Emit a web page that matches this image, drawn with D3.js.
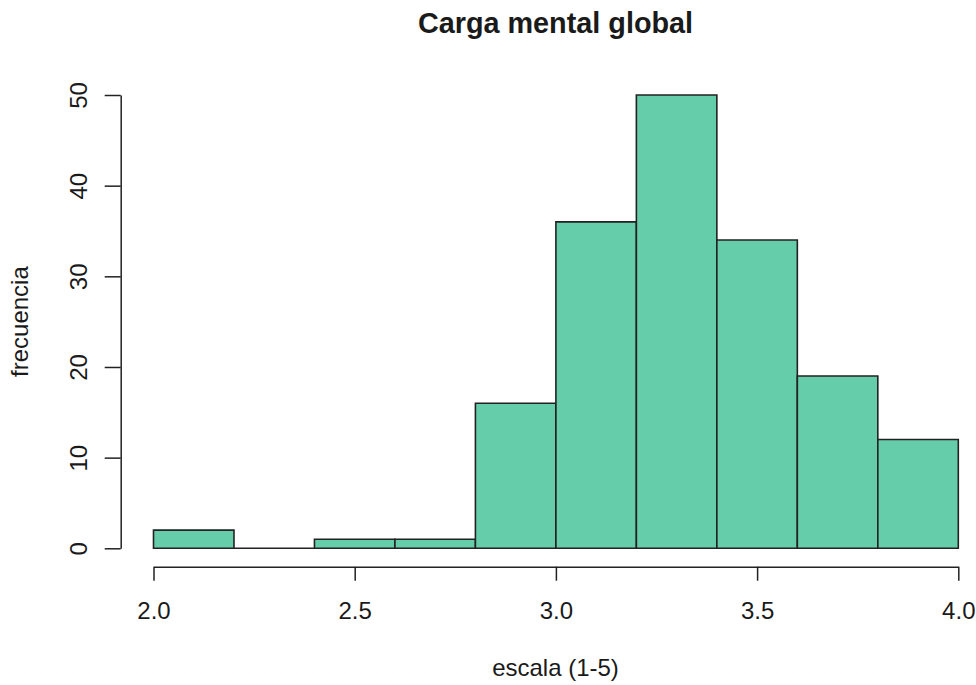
<!DOCTYPE html>
<html>
<head>
<meta charset="utf-8">
<script src="https://cdn.jsdelivr.net/npm/d3@7"></script>
<style>
  body { margin: 0; background: #fff; }
  svg text { font-family: "Liberation Sans", Arial, sans-serif; fill: #1a1a1a; }
</style>
</head>
<body>
<div id="chart"></div>
<script>
// histogram bins (left edges) and counts
const binStarts = [2.0, 2.2, 2.4, 2.6, 2.8, 3.0, 3.2, 3.4, 3.6, 3.8];
const binWidth = 0.2;
const counts = [2, 0, 1, 1, 16, 36, 50, 34, 19, 12];
const xTicks = [2.0, 2.5, 3.0, 3.5, 4.0];
const yTicks = [0, 10, 20, 30, 40, 50];

const title = "Carga mental global";
const xLabel = "escala (1-5)";
const yLabel = "frecuencia";

const width = 976, height = 685;

const svg = d3.select("#chart").append("svg")
    .attr("width", width)
    .attr("height", height);

const x = d3.scaleLinear().domain([2, 4]).range([153.5, 958.3]);
const y = d3.scaleLinear().domain([0, 50]).range([548.3, 95]);

// bars (paths so the empty bin still shows its baseline)
svg.selectAll("path.bar")
    .data(binStarts.map((s, i) => ({ s, c: counts[i] })))
    .enter()
    .append("path")
    .attr("class", "bar")
    .attr("d", d => {
        const x0 = x(d.s), x1 = x(d.s + binWidth), y0 = y(0), y1 = y(d.c);
        return `M${x0},${y0}L${x0},${y1}L${x1},${y1}L${x1},${y0}Z`;
    })
    .attr("fill", "#66CDAA")
    .attr("stroke", "#222")
    .attr("stroke-width", 1.6);

// x axis
const xAxis = svg.append("g")
    .attr("transform", "translate(0,566.7)")
    .call(d3.axisBottom(x).tickValues(xTicks).tickFormat(d3.format(".1f")).tickSize(14).tickSizeOuter(0));
xAxis.select(".domain").attr("stroke", "#222").attr("stroke-width", 1.5);
xAxis.selectAll(".tick line").attr("stroke", "#222").attr("stroke-width", 1.5);
xAxis.selectAll(".tick text")
    .attr("y", 52).attr("dy", 0)
    .style("font-size", "24px");

// y axis
const yAxis = svg.append("g")
    .attr("transform", "translate(120.7,0)")
    .call(d3.axisLeft(y).tickValues(yTicks).tickSize(16).tickSizeOuter(0));
yAxis.select(".domain").attr("stroke", "#222").attr("stroke-width", 1.5);
yAxis.selectAll(".tick line").attr("stroke", "#222").attr("stroke-width", 1.5);
yAxis.selectAll(".tick text")
    .attr("x", 0).attr("y", 0).attr("dy", 0)
    .attr("text-anchor", "middle")
    .attr("transform", "translate(-33.7,0) rotate(-90)")
    .style("font-size", "24px");

// labels
svg.append("text")
    .attr("x", 555.5).attr("y", 33)
    .attr("text-anchor", "middle")
    .style("font-size", "28.8px")
    .style("font-weight", "bold")
    .text(title);

svg.append("text")
    .attr("x", 555.5).attr("y", 676)
    .attr("text-anchor", "middle")
    .style("font-size", "24px")
    .text(xLabel);

svg.append("text")
    .attr("transform", "translate(28,321.6) rotate(-90)")
    .attr("text-anchor", "middle")
    .style("font-size", "24px")
    .text(yLabel);
</script>
</body>
</html>
